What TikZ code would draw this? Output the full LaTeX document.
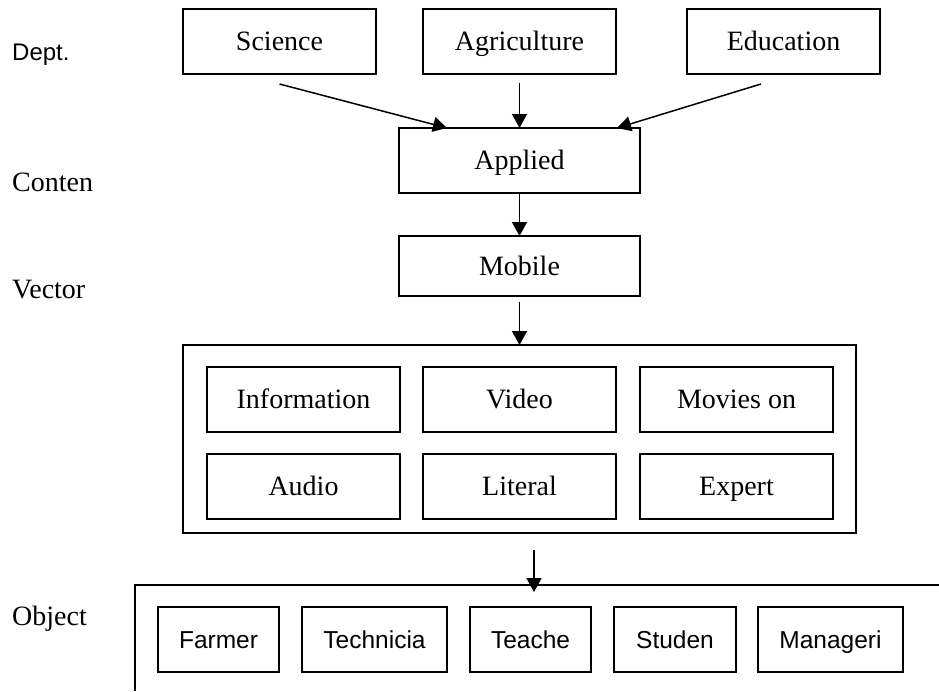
\documentclass[tikz,border=0pt]{standalone}
\usepackage{fontspec}
\setmainfont{Liberation Serif}
\setsansfont{Liberation Sans}
\usetikzlibrary{arrows.meta,positioning}

\begin{document}
\begin{tikzpicture}[
    x=1pt, y=-1pt,
    box/.style={rectangle, draw, line width=1.5pt, outer sep=0pt, inner sep=0pt, text height=24pt, text depth=5.5pt, font=\fontsize{28}{31}\selectfont},
    dept/.style={box, minimum width=193pt, minimum height=65pt},
    wide/.style={box, minimum width=241pt},
    item/.style={box, minimum width=193pt, minimum height=65pt},
    person/.style={box, minimum height=65pt, text height=23pt, text depth=5.5pt, font=\sffamily\fontsize{24.5}{27}\selectfont},
    frame/.style={rectangle, draw, line width=1.5pt, outer sep=0pt, inner sep=0pt},
    level/.style={anchor=base west, inner sep=0pt, font=\fontsize{28}{31}\selectfont},
    arrow/.style={line width=1.5pt, -{Triangle[length=14pt, width=15pt]}}
]
\useasboundingbox (0,0) rectangle (939,691);

% Level labels (left column)
\node[level, font=\sffamily\fontsize{24}{27}\selectfont] (lvdept) at (12,60) {Dept.};
\node[level] (lvcontent) at (12,191) {Conten};
\node[level] (lvvector) at (12,298) {Vector};
\node[level] (lvobject) at (12,625) {Object};

% Departments (top row)
\node[dept] (agri) at (519.5,41.5) {Agriculture};
\node[dept, left=47pt of agri] (sci) {Science};
\node[dept, right=71pt of agri] (edu) {Education};

% Content and vector
\node[wide, minimum height=65pt, below=54pt of agri] (applied) {Applied};
\node[wide, minimum height=60pt, below=43pt of applied] (mobile) {Mobile};

% Media services
\node[frame, minimum width=673pt, minimum height=188pt, below=49pt of mobile] (media) {};
\node[item, anchor=north west] (info) at ([xshift=24pt, yshift=-22pt]media.north west) {Information};
\node[item, right=23pt of info] (video) {Video};
\node[item, right=24pt of video] (movies) {Movies on};
\node[item, below=22pt of info] (audio) {Audio};
\node[item, below=22pt of video] (literal) {Literal};
\node[item, below=22pt of movies] (expert) {Expert};

% Target users (open frame at the bottom)
\coordinate (objcorner) at (135,585);
\coordinate (objright) at (939,585);
\coordinate (objbottom) at (135,691);
\draw[line width=1.5pt] (objright) -- (objcorner) -- (objbottom);
\coordinate (objin) at (534,592);

\node[person, minimum width=121pt] (farmer) at (218.5,639.5) {Farmer};
\node[person, minimum width=145pt, right=23pt of farmer] (tech) {Technicia};
\node[person, minimum width=121pt, right=23pt of tech] (teacher) {Teache};
\node[person, minimum width=122pt, right=23pt of teacher] (student) {Studen};
\node[person, minimum width=145pt, right=22pt of student] (manager) {Manageri};

% Arrows
\draw[arrow] ([yshift=-10pt]sci.south) -- ([xshift=-72.5pt]applied.north);
\draw[arrow] ([yshift=-9pt]agri.south) -- (applied.north);
\draw[arrow] ([xshift=-22.5pt, yshift=-10pt]edu.south) -- ([xshift=97.5pt]applied.north);
\draw[arrow] (applied) -- (mobile);
\draw[arrow, shorten <=5.5pt] (mobile) -- (media);
\draw[arrow] ([xshift=14.5pt, yshift=-17pt]media.south) -- (objin);

\end{tikzpicture}
\end{document}
